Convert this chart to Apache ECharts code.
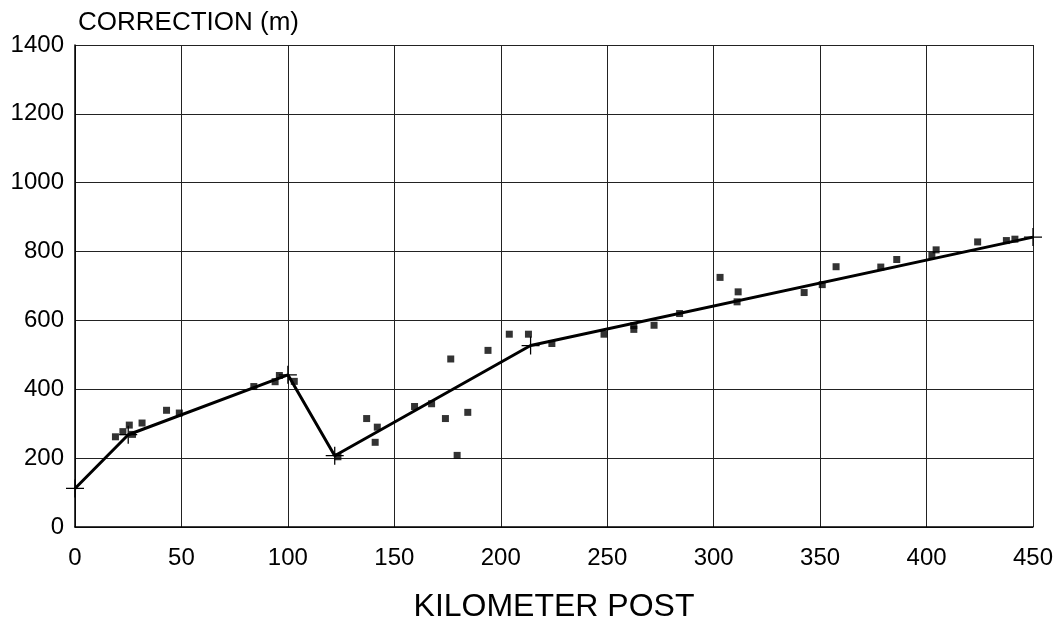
<!DOCTYPE html>
<html>
<head>
<meta charset="utf-8">
<script src="https://cdn.jsdelivr.net/npm/echarts@6/dist/echarts.min.js"></script>
<style>html,body{margin:0;padding:0;background:#fff}#c{width:1061px;height:628px}</style>
</head>
<body>
<div id="c"></div>
<script>
const xTicks = [0, 50, 100, 150, 200, 250, 300, 350, 400, 450];
const yTicks = [0, 200, 400, 600, 800, 1000, 1200, 1400];
// fitted correction line: breakpoints [km, m]
const lineKm = [0, 25, 100, 122, 214, 450];
const lineCorr = [112, 268, 442, 207, 527, 842];
// observed corrections
const obsKm = [19, 22.5, 25.5, 27, 31.5, 43, 49, 84, 94, 96, 103, 123.5,
  137, 141, 142, 159.5, 167.5, 174, 176.5, 179.5, 184.5, 194, 204, 213, 224, 248.5,
  262.5, 262.5, 272, 284, 303, 311, 311.5, 342.5, 351, 357.5, 378.5, 386, 402.5, 404.5, 424, 437.5, 441.5];
const obsCorr = [262, 277, 296, 269, 302, 339, 331, 408, 422, 440, 423, 204,
  315, 246, 290, 350, 358, 315, 488, 208, 333, 513, 560, 560, 533, 560,
  585, 574, 586, 620, 725, 654, 683, 681, 704, 756, 755, 777, 789, 805, 828, 832, 836];

const font = '"Liberation Sans", Arial, sans-serif';
const cross = 'path://M-0.07,-1H0.07V-0.07H1V0.07H0.07V1H-0.07V0.07H-1V-0.07H-0.07Z';
const chart = echarts.init(document.getElementById('c'));
chart.setOption({
  animation: false,
  backgroundColor: '#fff',
  title: {
    text: 'CORRECTION (m)', left: 73, top: 5,
    textStyle: { fontFamily: font, fontSize: 26, fontWeight: 'normal', color: '#000' }
  },
  grid: { left: 75, right: 28, top: 45, bottom: 98 },
  xAxis: {
    type: 'value', min: xTicks[0], max: xTicks[xTicks.length - 1], interval: 50,
    name: 'KILOMETER POST', nameLocation: 'middle', nameGap: 64,
    nameTextStyle: { fontFamily: font, fontSize: 32, color: '#000' },
    axisLine: { show: true, lineStyle: { color: '#000', width: 1.5 } },
    axisTick: { show: false },
    axisLabel: { fontFamily: font, fontSize: 24, color: '#000', margin: 19 },
    splitLine: { show: true, lineStyle: { color: '#222', width: 1 } }
  },
  yAxis: {
    type: 'value', min: yTicks[0], max: yTicks[yTicks.length - 1], interval: 200,
    axisLine: { show: true, lineStyle: { color: '#000', width: 1.5 } },
    axisTick: { show: false },
    axisLabel: { fontFamily: font, fontSize: 24, color: '#000', margin: 11,
      formatter: v => String(v) },
    splitLine: { show: true, lineStyle: { color: '#222', width: 1 } }
  },
  series: [
    {
      type: 'line',
      data: lineKm.map((k, i) => [k, lineCorr[i]]),
      lineStyle: { color: '#000', width: 3 },
      symbol: cross, symbolSize: 18, showSymbol: true,
      itemStyle: { color: '#000' }, z: 3
    },
    {
      type: 'scatter',
      data: obsKm.map((k, i) => [k, obsCorr[i]]),
      symbol: 'rect', symbolSize: 7,
      itemStyle: { color: '#000' }, z: 4
    }
  ]
});
</script>
</body>
</html>
